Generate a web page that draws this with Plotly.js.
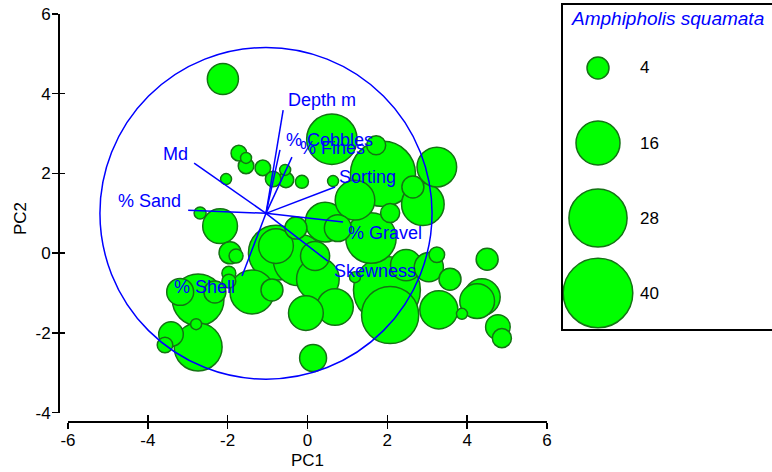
<!DOCTYPE html>
<html><head><meta charset="utf-8">
<script src="https://cdn.plot.ly/plotly-3.0.1.min.js"></script>
<style>html,body{margin:0;padding:0;background:#fff}#chart{width:772px;height:472px}</style>
</head><body><div id="chart"></div>
<script>
// Sample scores on PC1 / PC2 and bubble values (Amphipholis squamata counts)
const pcX = [1.99, 1.89, 2.07, -0.79, -2.74, -0.21, 0.61, 1.59, -2.74, -1.39, 0.26, 2.89, 0.44, 1.19, 3.24, 3.29, 0.69, 4.37, -0.79, 4.25, -2.19, -0.04, 2.47, -2.12, 0.19, 3.04, 0.14, 0.76, -3.19, -3.42, 4.77, 4.50, -0.89, 3.57, -2.32, -1.94, -0.29, 2.64, 4.87, 1.72, 2.07, -0.54, 3.24, -1.54, -1.12, -0.86, -1.72, -3.57, -1.79, -1.97, -1.97, -0.14, -2.69, -2.04, -0.56, 0.64, -2.79, 3.87, 1.19, -1.54];
const pcY = [-0.92, 1.99, -1.55, 0.01, -1.17, -0.17, 2.86, 0.38, -2.35, -0.97, -0.65, 1.23, 0.78, 1.33, 2.16, -1.42, -1.35, -1.10, 0.18, -1.20, 0.68, -1.50, -0.30, 4.37, -0.07, -0.35, -2.63, 0.63, -0.97, -2.03, -1.85, -0.15, -0.92, -0.65, -0.97, 0.01, 0.63, 1.66, -2.13, 2.71, 1.01, 1.84, -0.04, 2.19, 2.14, 1.86, 2.51, -2.30, -0.07, -0.50, -0.70, 1.79, 1.01, 1.86, 2.09, 1.81, -1.78, -1.52, -0.60, 2.39];
const abundance = [37, 35, 27, 25, 22, 22, 21, 21, 19, 16, 15, 15, 13, 13, 13, 12, 11, 11, 10, 10, 10, 10, 8, 8, 7, 7, 6, 6, 6, 5, 5, 4, 4, 4, 4, 4, 4, 4, 3, 3, 3, 2, 2, 2, 2, 2, 2, 2, 1.6, 1.6, 1.6, 1.4, 1.2, 1, 1, 1, 1, 1, 1, 1];

// Environmental vectors (end points, PC1/PC2 coordinates)
const vectorNames = ['Depth m', '% Cobbles', '% Fines', 'Md', '% Sand', 'Sorting', '% Gravel', 'Skewness', '% Shell'];
const vectorX = [-0.61, -0.69, -0.39, -2.84, -2.99, 0.69, 0.89, 0.51, -1.64];
const vectorY = [3.59, 2.59, 2.41, 2.26, 1.08, 1.66, 0.78, -0.20, -0.57];
const vectorOrigin = [-1.04, 1.0];
const circleRadius = 4.16;

// Bubble legend values
const legendTitle = 'Amphipholis squamata';
const legendValues = [4, 16, 28, 40];

// Tick labels and axis titles
const xTickVals = [-6, -4, -2, 0, 2, 4, 6];
const xTickText = ['-6', '-4', '-2', '0', '2', '4', '6'];
const yTickVals = [-4, -2, 0, 2, 4, 6];
const yTickText = ['-4', '-2', '0', '2', '4', '6'];
const xTitle = 'PC1';
const yTitle = 'PC2';

// ---- styling ----
const FONT = 'Liberation Sans, Arial, sans-serif';
const W = 772, H = 472;
const SIZEREF = 2 / 121;
const FILL = '#00ff00';
const EDGE = 'rgb(20,115,20)';
const BLUE = '#0000ff';
const labelAnchor = ['left', 'left', 'left', 'right', 'right', 'left', 'left', 'left', 'right'];
const labelDx = [3, 4, 6, -4, -5, 2, 3, 4, -5];
const labelDy = [10, 10, 9, 9, 9, 10, -11, -10, -11];

const bubbleMarker = {color: FILL, sizemode: 'area', sizeref: SIZEREF, line: {color: EDGE, width: 1.5}, opacity: 1};

const vx = [], vy = [];
vectorX.forEach((x, i) => { vx.push(vectorOrigin[0], x, null); vy.push(vectorOrigin[1], vectorY[i], null); });

const traces = [
  {type: 'scatter', mode: 'markers', x: pcX, y: pcY, xaxis: 'x', yaxis: 'y',
   marker: Object.assign({}, bubbleMarker, {size: abundance}), hoverinfo: 'skip'},
  {type: 'scatter', mode: 'lines', x: vx, y: vy, xaxis: 'x', yaxis: 'y',
   line: {color: BLUE, width: 1.5}, hoverinfo: 'skip'},
  {type: 'scatter', mode: 'markers', x: legendValues.map(() => 36), y: legendValues.map((v, i) => i),
   xaxis: 'x2', yaxis: 'y2', marker: Object.assign({}, bubbleMarker, {size: legendValues}), hoverinfo: 'skip', cliponaxis: false},
  {type: 'scatter', mode: 'markers', x: [], y: [], xaxis: 'x3', yaxis: 'y3', hoverinfo: 'skip'}
];

const annotations = vectorNames.map((name, i) => ({
  x: vectorX[i], y: vectorY[i], xref: 'x', yref: 'y', text: name, showarrow: false,
  xanchor: labelAnchor[i], yanchor: 'middle', xshift: labelDx[i], yshift: labelDy[i],
  font: {family: FONT, size: 18, color: BLUE}
}));
legendValues.forEach((v, i) => annotations.push({
  x: 76, y: i, xref: 'x2', yref: 'y2', text: String(v), showarrow: false,
  xanchor: 'left', yanchor: 'middle', font: {family: FONT, size: 17, color: 'black'}
}));
annotations.push({
  x: 667 / W, y: 1 - 18 / H, xref: 'paper', yref: 'paper', text: '<i>' + legendTitle + '</i>',
  showarrow: false, xanchor: 'center', yanchor: 'middle', font: {family: FONT, size: 19, color: BLUE}
});
annotations.push({
  x: 307.5 / W, y: 1 - 460 / H, xref: 'paper', yref: 'paper', text: xTitle, showarrow: false,
  xanchor: 'center', yanchor: 'middle', font: {family: FONT, size: 17, color: 'black'}
});
annotations.push({
  x: 20 / W, y: 1 - 219 / H, xref: 'paper', yref: 'paper', text: yTitle, showarrow: false, textangle: -90,
  xanchor: 'center', yanchor: 'middle', font: {family: FONT, size: 17, color: 'black'}
});

const axisCommon = {showgrid: false, zeroline: false, linecolor: 'black', linewidth: 1.5,
  tickcolor: 'black', tickwidth: 1.5, ticklen: 6, tickfont: {family: FONT, size: 17, color: 'black'}};

const layout = {
  width: W, height: H, margin: {l: 0, r: 0, t: 0, b: 0},
  paper_bgcolor: 'white', plot_bgcolor: 'rgba(0,0,0,0)', showlegend: false,
  font: {family: FONT, size: 17, color: 'black'},
  xaxis: Object.assign({}, axisCommon, {domain: [68 / W, 547 / W], range: [-6, 6], anchor: 'free', position: 51 / H,
    showline: true, ticks: 'outside', tickmode: 'array', tickvals: xTickVals, ticktext: xTickText, ticklabelstandoff: -3}),
  yaxis: Object.assign({}, axisCommon, {domain: [59.3 / H, 458 / H], range: [-4, 6], anchor: 'free', position: 58 / W,
    showline: true, ticks: 'outside', tickmode: 'array', tickvals: yTickVals, ticktext: yTickText, ticklabelstandoff: -2}),
  xaxis3: Object.assign({}, axisCommon, {overlaying: 'x', range: [-6, 6], anchor: 'free', position: 51 / H,
    showline: false, ticks: 'inside', tickmode: 'array', tickvals: xTickVals, showticklabels: false}),
  yaxis3: Object.assign({}, axisCommon, {overlaying: 'y', range: [-4, 6], anchor: 'free', position: 58 / W,
    showline: false, ticks: 'inside', tickmode: 'array', tickvals: yTickVals, showticklabels: false}),
  xaxis2: {domain: [562 / W, 1], range: [0, 210], anchor: 'y2', visible: false},
  yaxis2: {domain: [142 / H, 468 / H], range: [3.493, -0.853], anchor: 'x2', visible: false},
  shapes: [
    {type: 'circle', xref: 'x', yref: 'y', x0: vectorOrigin[0] - circleRadius, x1: vectorOrigin[0] + circleRadius,
     y0: vectorOrigin[1] - circleRadius, y1: vectorOrigin[1] + circleRadius, line: {color: BLUE, width: 1.5}, layer: 'above'},
    {type: 'rect', xref: 'paper', yref: 'paper', x0: 562 / W, x1: 1.01, y0: 142 / H, y1: 1 - 4 / H,
     line: {color: 'black', width: 2}, fillcolor: 'rgba(0,0,0,0)'}
  ],
  annotations: annotations
};

Plotly.newPlot('chart', traces, layout, {staticPlot: true, displayModeBar: false});
</script>
</body></html>
